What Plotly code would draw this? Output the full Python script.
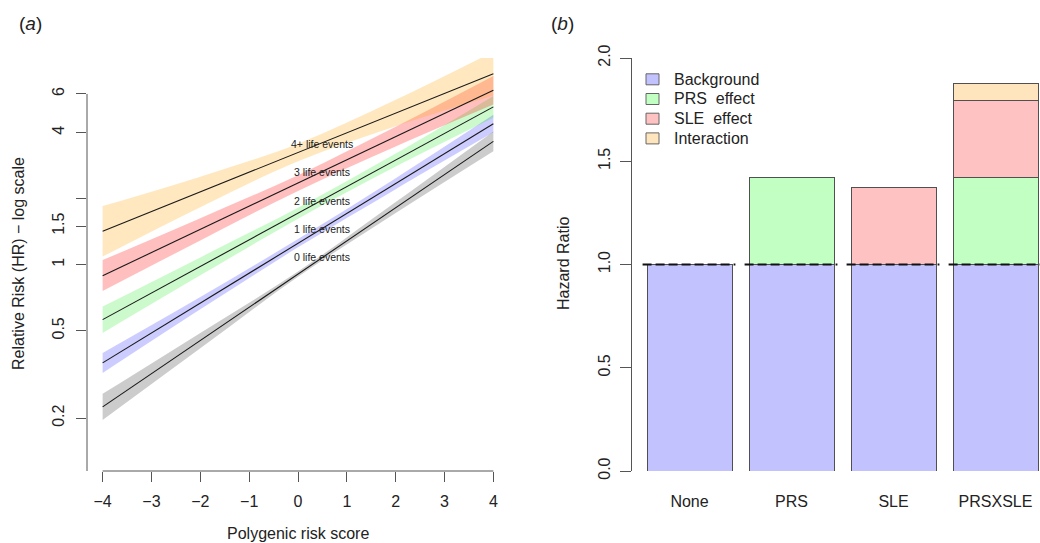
import numpy as np
import plotly.graph_objects as go

W, H = 1040, 543

# ---------------- Panel (a) data ----------------
prs = [-4, -2, 0, 2, 4]
groups = ["0 life events", "1 life events", "2 life events", "3 life events", "4+ life events"]

hr_mid = {
    "0 life events": [0.225, 0.451, 0.905, 1.82, 3.65],
    "1 life events": [0.357, 0.668, 1.25, 2.35, 4.39],
    "2 life events": [0.562, 0.982, 1.71, 3.00, 5.24],
    "3 life events": [0.891, 1.45, 2.36, 3.83, 6.23],
    "4+ life events": [1.42, 2.15, 3.24, 4.91, 7.42],
}
hr_low = {
    "0 life events": [0.196, 0.416, 0.881, 1.72, 3.29],
    "1 life events": [0.321, 0.626, 1.20, 2.21, 4.01],
    "2 life events": [0.489, 0.895, 1.62, 2.80, 4.67],
    "3 life events": [0.759, 1.29, 2.17, 3.46, 5.37],
    "4+ life events": [1.09, 1.83, 2.96, 4.28, 5.90],
}
hr_up = {
    "0 life events": [0.258, 0.489, 0.931, 1.93, 4.05],
    "1 life events": [0.396, 0.712, 1.31, 2.48, 4.82],
    "2 life events": [0.645, 1.08, 1.82, 3.21, 5.88],
    "3 life events": [1.05, 1.63, 2.56, 4.25, 7.24],
    "4+ life events": [1.85, 2.52, 3.56, 5.64, 9.35],
}
y_ticks_a = [0.2, 0.5, 1, 1.5, 2, 4, 6]
y_ticktext_a = ["0.2", "0.5", "1", "1.5", "", "4", "6"]
x_ticks_a = [-4, -3, -2, -1, 0, 1, 2, 3, 4]

# ---------------- Panel (b) data ----------------
categories = ["None", "PRS", "SLE", "PRSXSLE"]
components = ["Background", "PRS  effect", "SLE  effect", "Interaction"]
background = [1.0, 1.0, 1.0, 1.0]
prs_effect = [None, 0.42, None, 0.42]
sle_effect = [None, None, 0.375, 0.375]
interaction = [None, None, None, 0.08]
reference_hr = 1.0
y_ticks_b = [0.0, 0.5, 1.0, 1.5, 2.0]

# ---------------- styles ----------------
band_colors = ["rgba(0,0,0,0.2)", "rgba(0,0,255,0.2)", "rgba(0,230,0,0.2)",
               "rgba(255,0,0,0.25)", "rgba(255,165,0,0.25)"]
bar_colors = ["rgb(194,194,255)", "rgb(194,255,194)", "rgb(255,194,194)", "rgb(255,229,190)"]
AX = "#555555"
TXT = "#222222"
FONT = "Liberation Sans, Arial, sans-serif"

# pixel layout
def px_x(p):
    return p / W

def px_y(p):
    return 1 - p / H

a_dom_x = [px_x(87), px_x(509)]
b_dom_x = [px_x(632), 1.0]
dom_y = [px_y(471), px_y(58)]
a_yrange = [-0.940, 0.942]
a_xrange = [-4.32, 4.32]
b_xrange = [-0.5637, 3.436]

fig = go.Figure()

# bands then lines
for g, col in zip(groups, band_colors):
    fig.add_trace(go.Scatter(x=prs, y=hr_low[g], mode="lines", line=dict(width=0, shape="spline"),
                             showlegend=False, hoverinfo="skip", xaxis="x", yaxis="y"))
    fig.add_trace(go.Scatter(x=prs, y=hr_up[g], mode="lines", line=dict(width=0, shape="spline"),
                             fill="tonexty", fillcolor=col, showlegend=False, hoverinfo="skip",
                             xaxis="x", yaxis="y"))
for g in groups:
    fig.add_trace(go.Scatter(x=prs, y=hr_mid[g], mode="lines", line=dict(color="#1a1a1a", width=1.1),
                             showlegend=False, hoverinfo="skip", xaxis="x", yaxis="y"))

# bars
for name, vals, col in zip(components, [background, prs_effect, sle_effect, interaction], bar_colors):
    fig.add_trace(go.Bar(x=categories, y=vals, name=name, marker=dict(color=col, line=dict(color="#505050", width=1)),
                         showlegend=False, hoverinfo="skip", xaxis="x2", yaxis="y2"))

shapes = []
# panel (a) axis lines
shapes.append(dict(type="line", xref="x", yref="y domain", x0=min(x_ticks_a), x1=max(x_ticks_a), y0=0, y1=0,
                   line=dict(color=AX, width=1)))
top_frac = (np.log10(max(y_ticks_a)) - a_yrange[0]) / (a_yrange[1] - a_yrange[0])
shapes.append(dict(type="line", xref="x domain", yref="y domain", x0=0, x1=0, y0=0, y1=top_frac,
                   line=dict(color=AX, width=1)))
# dashed reference segments per bar
half = 0.45
for i, _ in enumerate(categories):
    shapes.append(dict(type="line", xref="x2", yref="y2", x0=i - half - 0.01, x1=i + half, y0=reference_hr, y1=reference_hr,
                       line=dict(color="#111111", width=2, dash="9px,4px")))

annotations = []
label_x = 0.5
label_y = [1.08, 1.45, 1.96, 2.64, 3.55]
for g, ly in zip(groups, label_y):
    annotations.append(dict(x=label_x, y=np.log10(ly), xref="x", yref="y", text=g, showarrow=False,
                            font=dict(size=10.5, color=TXT, family=FONT), xanchor="center", yanchor="middle"))

# legend (custom, R style)
leg_rows = [79.3, 99.0, 118.7, 138.4]
for name, col, ry in zip(components, bar_colors, leg_rows):
    shapes.append(dict(type="rect", xref="paper", yref="paper", x0=px_x(646), x1=px_x(659),
                       y0=px_y(ry + 5.5), y1=px_y(ry - 5.5), fillcolor=col, line=dict(color="#666666", width=1)))
    annotations.append(dict(x=px_x(672), y=px_y(ry), xref="paper", yref="paper",
                            text=name.replace("  ", " \u00a0"), showarrow=False, xanchor="left", yanchor="middle",
                            font=dict(size=16, color=TXT, family=FONT)))

# titles
annotations += [
    dict(x=px_x(298), y=px_y(533), xref="paper", yref="paper", text="Polygenic risk score", showarrow=False,
         font=dict(size=16, color=TXT, family=FONT), xanchor="center", yanchor="middle"),
    dict(x=px_x(18), y=px_y(264), xref="paper", yref="paper", text="Relative Risk (HR) \u2212 log scale",
         showarrow=False, textangle=-90, font=dict(size=16, color=TXT, family=FONT), xanchor="center", yanchor="middle"),
    dict(x=px_x(563), y=px_y(264), xref="paper", yref="paper", text="Hazard Ratio",
         showarrow=False, textangle=-90, font=dict(size=16, color=TXT, family=FONT), xanchor="center", yanchor="middle"),
    dict(x=px_x(30), y=px_y(23), xref="paper", yref="paper", text="(<i>a</i>)", showarrow=False,
         font=dict(size=19, color=TXT, family=FONT), xanchor="center", yanchor="middle"),
    dict(x=px_x(562), y=px_y(23), xref="paper", yref="paper", text="(<i>b</i>)", showarrow=False,
         font=dict(size=19, color=TXT, family=FONT), xanchor="center", yanchor="middle"),
]

tickfont = dict(size=16, color=TXT, family=FONT)
fig.update_layout(
    width=W, height=H, autosize=False,
    margin=dict(l=0, r=0, t=0, b=0, pad=0, autoexpand=False),
    paper_bgcolor="white", plot_bgcolor="white",
    barmode="stack", bargap=0.1667,
    showlegend=False,
    xaxis=dict(domain=a_dom_x, range=a_xrange, tickvals=x_ticks_a, ticks="outside", ticklen=10,
               tickcolor=AX, showline=False, showgrid=False, zeroline=False, tickfont=tickfont,
               anchor="y", ticklabelstandoff=6, fixedrange=True, automargin=False),
    yaxis=dict(domain=dom_y, type="log", range=a_yrange, tickvals=y_ticks_a, ticktext=y_ticktext_a,
               ticks="outside", ticklen=10, tickcolor=AX, showline=False, showgrid=False, zeroline=False,
               tickangle=-90, tickfont=tickfont, anchor="x", ticklabelstandoff=6, fixedrange=True,
               automargin=False),
    xaxis2=dict(domain=b_dom_x, range=b_xrange, type="category", ticks="", showline=False, showgrid=False,
                zeroline=False, tickfont=tickfont, anchor="y2", ticklabelstandoff=19, fixedrange=True,
                automargin=False),
    yaxis2=dict(domain=dom_y, range=[0, 2], tickvals=y_ticks_b, ticktext=["%.1f" % v for v in y_ticks_b],
                ticks="outside", ticklen=11, tickcolor=AX, showline=True, linecolor=AX, linewidth=1,
                showgrid=False, zeroline=False, tickangle=-90, tickfont=tickfont, anchor="x2",
                ticklabelstandoff=4, fixedrange=True, automargin=False),
    shapes=shapes,
    annotations=annotations,
    font=dict(family=FONT, color=TXT),
)

fig.write_html("out.html", include_plotlyjs=True, full_html=True,
               config={"displayModeBar": False, "staticPlot": True},
               post_script="document.body.style.margin='0';document.body.style.overflow='hidden';")
